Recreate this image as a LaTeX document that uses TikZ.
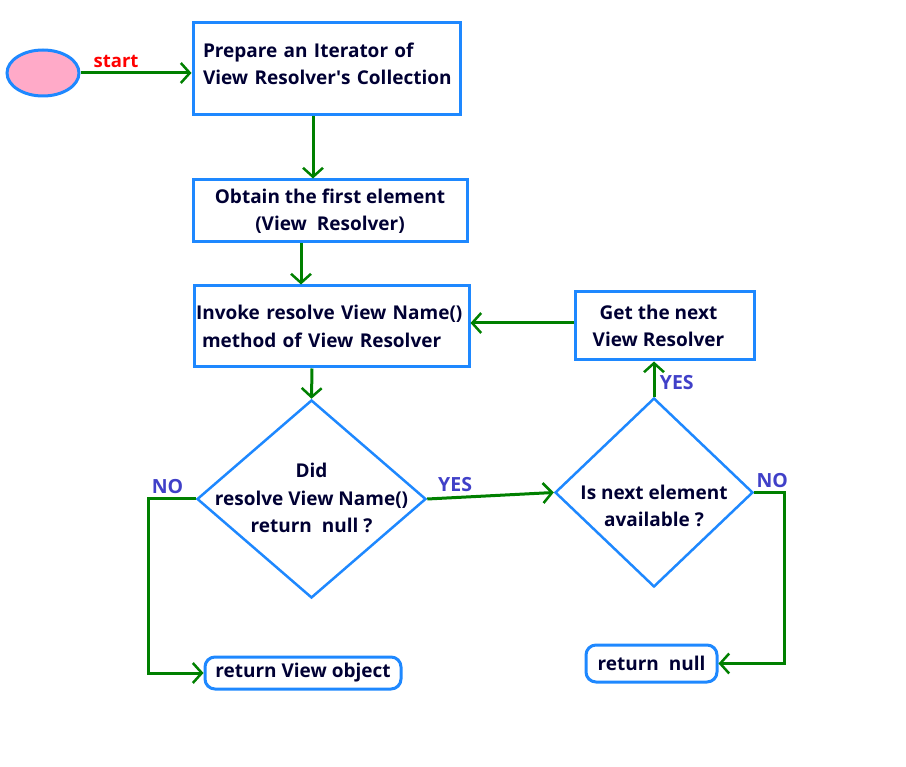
\documentclass[tikz,border=0pt]{standalone}
\usepackage{fontspec}
\setmainfont{Open Sans}
\usepackage{xcolor}
\usetikzlibrary{positioning,shapes,arrows.meta}

\definecolor{boxblue}{RGB}{30,136,255}
\definecolor{flowgreen}{RGB}{0,128,0}
\definecolor{ink}{RGB}{0,0,51}
\definecolor{answer}{RGB}{64,64,200}
\definecolor{startpink}{RGB}{255,170,200}

\begin{document}
\begin{tikzpicture}[x=1pt,y=-1pt,
    every node/.style={font=\fontsize{19}{27.5}\selectfont\bfseries,text=ink},
    step box/.style={draw=boxblue,line width=3pt,rectangle,inner sep=0pt},
    end box/.style={draw=boxblue,line width=3pt,rectangle,rounded corners=10pt,inner sep=0pt},
    decision/.style={draw=boxblue,line width=2.5pt,diamond,inner sep=0pt},
    flow/.style={draw=flowgreen,line width=3pt,-{Straight Barb[length=9pt,width=20pt,line width=2.5pt]}},
    answer/.style={text=answer,font=\fontsize{19.5}{22}\selectfont\bfseries}]
  \useasboundingbox (0,0) rectangle (906,767);
  % boxes
  \node[ellipse,draw=boxblue,fill=startpink,line width=3pt,minimum width=72pt,minimum height=46pt] (start) at (43,73) {};
  \node[step box,minimum width=267pt,minimum height=92pt] (prep) at (326.5,69) {};
  \node[text width=257pt,inner sep=0pt,align=left] (preptxt) at ([xshift=5pt,yshift=5pt]prep.center)
       {Prepare an Iterator of\\View Resolver\textquotesingle s Collection};
  \node[step box,minimum width=274pt,minimum height=62pt,align=center] (obtain) at (330,211)
       {Obtain the first element\\(View\ \ Resolver)};
  \node[step box,minimum width=275pt,minimum height=81pt,text width=271pt,align=left] (invoke) at (331.5,326.5)
       {Invoke resolve View Name()\\\hspace*{6pt}method of View Resolver};
  \node[step box,minimum width=179pt,minimum height=68pt] (getnext) at (664.5,326) {};
  \node[align=center] (getnexttxt) at ([xshift=-6pt]getnext.center) {Get the next\\View Resolver};
  \node[decision,minimum width=229pt,minimum height=198pt] (did) at (311.5,499) {};
  \node[align=center] (didtxt) at (311.5,498) {Did\\resolve View Name()\\return\ \ null ?};
  \node[decision,minimum width=198pt,minimum height=189pt] (next) at (654,492.5) {};
  \node[align=center] (nexttxt) at (654,506) {Is next element\\available ?};
  \node[end box,minimum width=196pt,minimum height=32pt] (retview) at (303,673) {return View object};
  \node[end box,minimum width=131pt,minimum height=37pt] (retnull) at (651.5,663.5) {return\ \ null};
  \coordinate (back) at ([yshift=3pt]getnext.west);
  % connectors
  \draw[flow] (start.east) -- (prep.west |- start.east)
       node[pos=0.32,above=0pt,text=red,font=\fontsize{18.5}{20}\selectfont\bfseries] (startlbl) {start};
  \draw[flow] ([xshift=-13.5pt]prep.south) -- ([xshift=-17pt]obtain.north);
  \draw[flow] ([xshift=-29pt]obtain.south) -- ([xshift=-30.5pt]invoke.north);
  \draw[flow] ([xshift=-19.5pt]invoke.south) -- (did.north);
  \draw[flow] (did.east) -- (next.west) node[pos=0.22,above=1pt,answer] (yes1) {YES};
  \draw[flow] (did.west) -- ++(-47pt,0) node[pos=0.6,above=0pt,answer] (no1) {NO} |- (retview.west);
  \draw[flow] (next.north) -- (next.north |- getnext.south)
       node[pos=0.4,right=1pt,answer] (yes2) {YES};
  \draw[flow] (back) -- (invoke.east |- back);
  \draw[flow] (next.east) -- ++(30pt,0) node[pos=0.6,above=0pt,answer] (no2) {NO} |- (retnull.east);
\end{tikzpicture}
\end{document}
